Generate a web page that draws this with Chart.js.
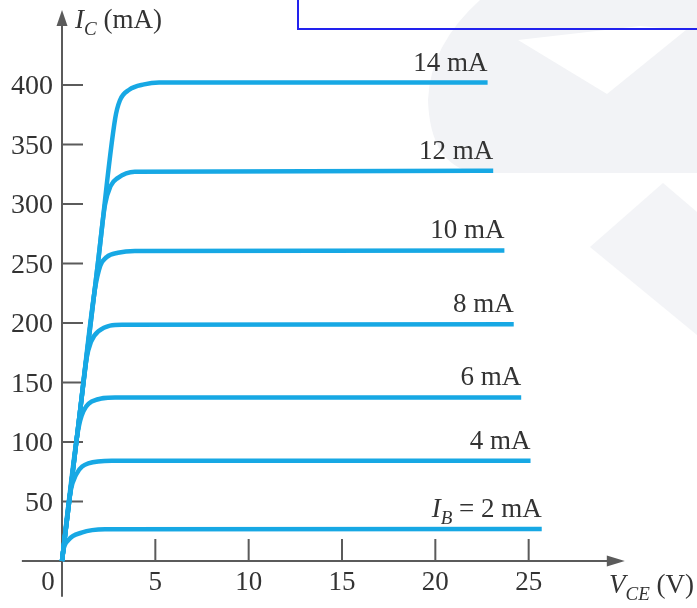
<!DOCTYPE html>
<html>
<head>
<meta charset="utf-8">
<script src="https://cdn.jsdelivr.net/npm/chart.js@4"></script>
<style>
  html, body { margin: 0; padding: 0; background: #fff; }
  #wrap { width: 697px; height: 608px; }
</style>
</head>
<body>
<div id="wrap"><canvas id="chart" width="697" height="608"></canvas></div>
<script>
// ===== data =====
const curveLabels = ["2 mA", "4 mA", "6 mA", "8 mA", "10 mA", "12 mA", "14 mA"];

const vce2  = [0, 0.07, 0.34, 1.05, 2.3, 25.7];
const ic2   = [0, 9, 17.6, 23.8, 26.6, 26.8];
const vce4  = [0, 0.45, 0.75, 1.41, 2.66, 25.1];
const ic4   = [0, 58, 72.5, 82, 84.3, 84.3];
const vce6  = [0, 0.8, 1.05, 1.59, 2.84, 24.6];
const ic6   = [0, 104, 122, 134, 137.5, 137.5];
const vce8  = [0, 0.96, 1.3, 1.55, 1.95, 3.2, 24.2];
const ic8   = [0, 125, 169, 184, 193, 198.5, 199];
const vce10 = [0, 0.96, 1.75, 2.05, 2.4, 3.0, 3.9, 23.7];
const ic10  = [0, 125, 227, 248, 255.5, 259, 260.5, 261];
const vce12 = [0, 0.96, 1.93, 2.3, 2.6, 3.0, 3.9, 23.1];
const ic12  = [0, 125, 251, 299, 315, 322, 327, 328];
const vce14 = [0, 0.96, 1.93, 2.85, 3.1, 3.6, 4.4, 5.2, 22.8];
const ic14  = [0, 125, 251, 372, 387, 396, 400.5, 402, 402];

const vceTicks = [5, 10, 15, 20, 25];
const icTicks = [50, 100, 150, 200, 250, 300, 350, 400];

// axis extents (data units) incl. arrows
const xAxisFrom = -2.15, xAxisTo = 30.15;
const yAxisFrom = -30, yAxisTo = 463;

const CURVE = "#17a8e4";
const AXIS = "#5b5b5b";
const TEXT = "#333";
const SERIF = '"Liberation Serif", "Times New Roman", serif';

const series = [
  [vce2, ic2], [vce4, ic4], [vce6, ic6], [vce8, ic8],
  [vce10, ic10], [vce12, ic12], [vce14, ic14]
];

function pts(xs, ys) {
  return xs.map((x, i) => ({ x, y: ys[i] }));
}

// draws mixed text (italic / subscript pieces)
function drawParts(ctx, parts, x, y, align, size) {
  const fontOf = p => (p.italic ? "italic " : "") + (p.sub ? Math.round(size * 0.7) : size) + "px " + SERIF;
  let total = 0;
  parts.forEach(p => { ctx.font = fontOf(p); p.w = ctx.measureText(p.t).width; total += p.w; });
  let cx = align === "right" ? x - total : x;
  ctx.textAlign = "left";
  ctx.textBaseline = "alphabetic";
  parts.forEach(p => {
    ctx.font = fontOf(p);
    ctx.fillText(p.t, cx, y + (p.sub ? 7 : 0));
    cx += p.w;
  });
}

// =========================
// background: faint watermark + blue box
// =========================
const backdrop = {
  id: "backdrop",
  beforeDraw(chart) {
    const ctx = chart.ctx;
    ctx.save();
    ctx.fillStyle = "#fff";
    ctx.fillRect(0, 0, chart.width, chart.height);

    ctx.fillStyle = "#f2f3f6";
    ctx.beginPath();
    ctx.moveTo(480, 0);
    ctx.quadraticCurveTo(430, 45, 428, 100);
    ctx.quadraticCurveTo(430, 165, 475, 173);
    ctx.lineTo(697, 173);
    ctx.lineTo(697, 0);
    ctx.closePath();
    ctx.fill();

    ctx.fillStyle = "#fff";
    ctx.beginPath();
    ctx.moveTo(518, 40);
    ctx.lineTo(607, 94);
    ctx.lineTo(686, 30);
    ctx.lineTo(640, 26);
    ctx.closePath();
    ctx.fill();

    ctx.fillStyle = "#f3f4f7";
    ctx.beginPath();
    ctx.moveTo(590, 247);
    ctx.lineTo(663, 183);
    ctx.lineTo(697, 212);
    ctx.lineTo(697, 335);
    ctx.closePath();
    ctx.fill();

    ctx.strokeStyle = "#2222ee";
    ctx.lineWidth = 2;
    ctx.strokeRect(298, -10, 420, 39);
    ctx.restore();
  }
};

// =========================
// axes with inward ticks + arrows
// =========================
const axes = {
  id: "axes",
  beforeDatasetsDraw(chart) {
    const ctx = chart.ctx;
    const xs = chart.scales.x, ys = chart.scales.y;
    const x0 = xs.getPixelForValue(0), y0 = ys.getPixelForValue(0);
    ctx.save();
    ctx.strokeStyle = AXIS;
    ctx.fillStyle = AXIS;
    ctx.lineWidth = 2;

    const yTip = ys.getPixelForValue(yAxisTo);
    const xTip = xs.getPixelForValue(xAxisTo);
    ctx.beginPath();
    ctx.moveTo(x0, ys.getPixelForValue(yAxisFrom));
    ctx.lineTo(x0, yTip + 10);
    ctx.moveTo(xs.getPixelForValue(xAxisFrom), y0);
    ctx.lineTo(xTip - 10, y0);
    icTicks.forEach(v => {
      const p = ys.getPixelForValue(v);
      ctx.moveTo(x0, p);
      ctx.lineTo(x0 + 21, p);
    });
    vceTicks.forEach(v => {
      const p = xs.getPixelForValue(v);
      ctx.moveTo(p, y0);
      ctx.lineTo(p, y0 - 22);
    });
    ctx.stroke();

    ctx.beginPath();
    ctx.moveTo(x0, yTip);
    ctx.lineTo(x0 - 5.5, yTip + 16);
    ctx.lineTo(x0 + 5.5, yTip + 16);
    ctx.closePath();
    ctx.fill();
    ctx.beginPath();
    ctx.moveTo(xTip, y0);
    ctx.lineTo(xTip - 18, y0 - 5.5);
    ctx.lineTo(xTip - 18, y0 + 5.5);
    ctx.closePath();
    ctx.fill();

    // tick labels
    ctx.fillStyle = TEXT;
    ctx.font = "28px " + SERIF;
    ctx.textAlign = "right";
    ctx.textBaseline = "middle";
    icTicks.forEach(v => ctx.fillText(String(v), x0 - 9, ys.getPixelForValue(v) + 2));
    ctx.font = "27px " + SERIF;
    ctx.textAlign = "center";
    vceTicks.forEach(v => ctx.fillText(String(v), xs.getPixelForValue(v), y0 + 22));
    ctx.fillText("0", x0 - 14, y0 + 22);

    // axis titles
    drawParts(ctx, [
      { t: "I", italic: true }, { t: "C", italic: true, sub: true }, { t: " (mA)" }
    ], x0 + 13, yTip + 18, "left", 27);
    drawParts(ctx, [
      { t: "V", italic: true }, { t: "CE", italic: true, sub: true }, { t: " (V)" }
    ], 694, y0 + 32, "right", 27);
    ctx.restore();
  },

  afterDatasetsDraw(chart) {
    const ctx = chart.ctx;
    const xs = chart.scales.x, ys = chart.scales.y;
    ctx.save();
    ctx.fillStyle = TEXT;
    series.forEach(([vx, iy], i) => {
      const px = xs.getPixelForValue(vx[vx.length - 1]);
      const py = ys.getPixelForValue(iy[iy.length - 1]) - 12;
      const parts = i === 0
        ? [{ t: "I", italic: true }, { t: "B", italic: true, sub: true }, { t: " = " + curveLabels[i] }]
        : [{ t: curveLabels[i] }];
      drawParts(ctx, parts, px, py, "right", 27);
    });
    ctx.restore();
  }
};

const chart = new Chart(document.getElementById("chart"), {
  type: "line",
  data: {
    datasets: series.map(([vx, iy], i) => ({
      label: curveLabels[i],
      data: pts(vx, iy),
      borderColor: CURVE,
      borderWidth: 4.5,
      borderCapStyle: "butt",
      borderJoinStyle: "round",
      pointRadius: 0,
      cubicInterpolationMode: "monotone",
      fill: false,
      clip: false
    }))
  },
  options: {
    responsive: false,
    animation: false,
    events: [],
    layout: { padding: { left: 62, right: 75, top: 25.5, bottom: 47 } },
    plugins: { legend: { display: false }, tooltip: { enabled: false } },
    scales: {
      x: { type: "linear", min: 0, max: 30, display: false },
      y: { type: "linear", min: 0, max: 450, display: false }
    }
  },
  plugins: [backdrop, axes]
});
</script>
</body>
</html>
